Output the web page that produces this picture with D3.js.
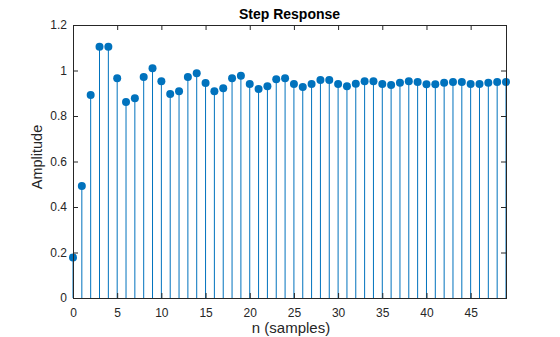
<!DOCTYPE html>
<html><head><meta charset="utf-8">
<script src="https://cdn.jsdelivr.net/npm/d3@7"></script>
<style>body{margin:0;background:#fff;}svg{display:block;font-family:"Liberation Sans",Arial,sans-serif;}</style>
</head><body>
<svg id="c" width="560" height="337"></svg>
<script>
const samples = d3.range(0, 50);
const amplitude = [0.178,0.492,0.892,1.104,1.104,0.966,0.861,0.878,0.971,1.010,
0.953,0.897,0.909,0.971,0.988,0.945,0.909,0.922,0.966,0.977,
0.941,0.919,0.931,0.962,0.966,0.941,0.927,0.941,0.958,0.958,
0.941,0.931,0.942,0.953,0.953,0.941,0.936,0.946,0.953,0.949,
0.940,0.940,0.946,0.950,0.950,0.941,0.941,0.946,0.950,0.950];
const xTicks = [0,5,10,15,20,25,30,35,40,45];
const yTicks = [0,0.2,0.4,0.6,0.8,1,1.2];
const title = "Step Response", xLabel = "n (samples)", yLabel = "Amplitude";

const L=73, R=506, T=25, B=298;
const svg = d3.select("#c");
const x = d3.scaleLinear().domain([0,49]).range([L,R]);
const y = d3.scaleLinear().domain([0,1.2]).range([B,T]);
const col = "#0072BD", axc = "#262626";

const g = svg.append("g");
g.selectAll("line.stem").data(samples).enter().append("line")
 .attr("x1", d=>x(d)).attr("x2", d=>x(d))
 .attr("y1", y(0)).attr("y2", (d,i)=>y(amplitude[i]))
 .attr("stroke", col).attr("stroke-width", 1);
g.selectAll("circle").data(samples).enter().append("circle")
 .attr("cx", d=>x(d)).attr("cy",(d,i)=>y(amplitude[i])).attr("r",4)
 .attr("fill", col);

function styleAxis(sel){
  sel.select(".domain").remove();
  sel.selectAll(".tick line").attr("stroke", axc);
  sel.selectAll(".tick text").attr("fill", axc).style("font-size","12px").style("font-family",'"Liberation Sans",Arial,sans-serif');
}
const xb = svg.append("g").attr("transform",`translate(0,${B})`)
 .call(d3.axisBottom(x).tickValues(xTicks).tickSizeInner(-5).tickSizeOuter(0).tickPadding(10).tickFormat(d3.format("d")));
styleAxis(xb);
const xt = svg.append("g").attr("transform",`translate(0,${T})`)
 .call(d3.axisTop(x).tickValues(xTicks).tickSizeInner(-5).tickSizeOuter(0).tickFormat(""));
styleAxis(xt);
const yl = svg.append("g").attr("transform",`translate(${L},0)`)
 .call(d3.axisLeft(y).tickValues(yTicks).tickSizeInner(-5).tickSizeOuter(0).tickPadding(6).tickFormat(d=>d3.format("")(+d.toFixed(1))));
styleAxis(yl);
const yr = svg.append("g").attr("transform",`translate(${R},0)`)
 .call(d3.axisRight(y).tickValues(yTicks).tickSizeInner(-5).tickSizeOuter(0).tickFormat(""));
styleAxis(yr);

svg.append("rect").attr("x",L).attr("y",T).attr("width",R-L).attr("height",B-T)
 .attr("fill","none").attr("stroke",axc).attr("stroke-width",1).attr("shape-rendering","crispEdges");

svg.append("text").attr("x",(L+R)/2).attr("y",19).attr("text-anchor","middle")
 .style("font-size","14px").style("font-weight","bold").attr("fill","#000").text(title);
svg.append("text").attr("x",291).attr("y",333).attr("text-anchor","middle")
 .style("font-size","15px").attr("fill",axc).text(xLabel);
svg.append("text").attr("transform",`translate(42,157) rotate(-90)`).attr("text-anchor","middle")
 .style("font-size","14.5px").attr("fill",axc).text(yLabel);
</script>
</body></html>
